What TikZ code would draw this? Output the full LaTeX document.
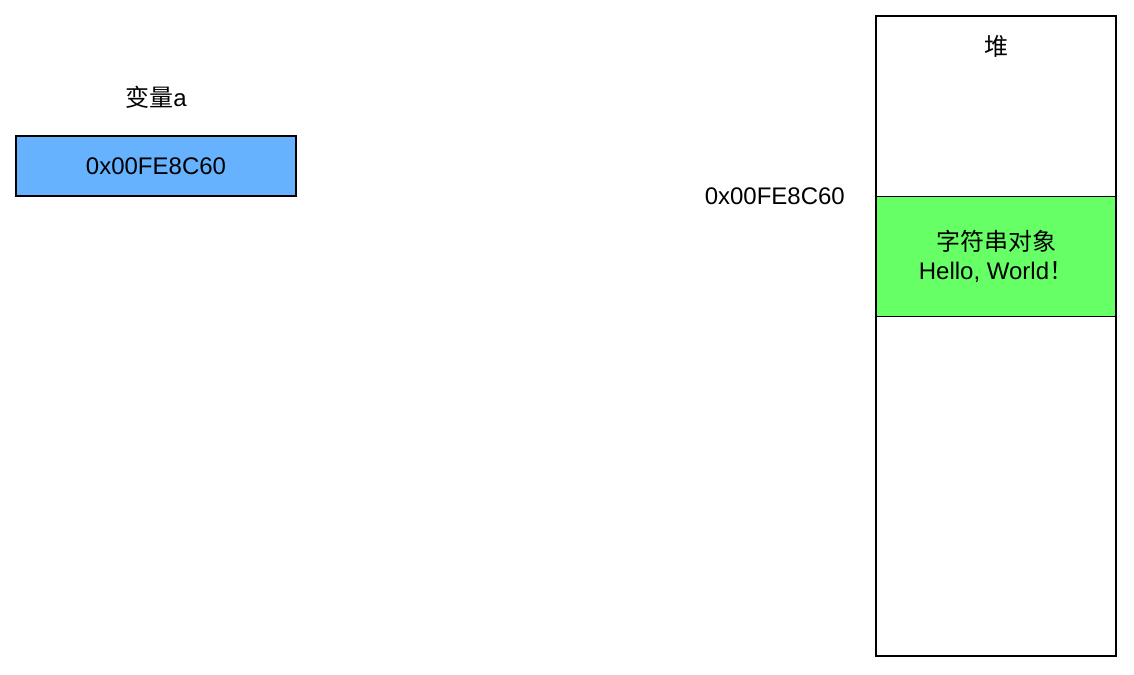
\documentclass[tikz,border=0pt]{standalone}
\usepackage{fontspec}
\setmainfont{Liberation Sans}
\newfontfamily\cjk{Noto Sans CJK SC}
\usepackage{xcolor}
\usepackage{tikz}
\usetikzlibrary{positioning}
\definecolor{var-blue}{HTML}{66B2FF}
\definecolor{obj-green}{HTML}{66FF66}

\begin{document}
\begin{tikzpicture}[
    x=0.5pt, y=-0.5pt,
    varbox/.style={draw, line width=0.75pt, fill=var-blue, minimum width=140pt, minimum height=30pt, font=\fontsize{12pt}{14.5pt}\selectfont},
    heapbox/.style={draw, line width=0.75pt, fill=white, minimum width=120pt, minimum height=320pt},
    objbox/.style={draw, line width=0.75pt, fill=obj-green, minimum width=120pt, minimum height=60pt, align=center, font=\fontsize{12pt}{14.5pt}\selectfont},
    note/.style={inner sep=0pt, font=\fontsize{12pt}{14.5pt}\selectfont}
]
    \useasboundingbox (0,0) rectangle (1134,674);

    % --- Nodes Definitions ---
    % Variable on the stack
    \node (var_a) [varbox] at (156,166) {0x00FE8C60};
    \node (var_label) [note, above=13pt of var_a] {{\cjk 变量}a};

    % Heap
    \node (heap) [heapbox] at (996,336) {};
    \node (heap_label) [note, below=10pt of heap.north] {\cjk 堆};
    \node (str_obj) [objbox] at (996,256.5) {{\cjk 字符串对象}\\Hello, World{\cjk ！}};
    \node (addr_label) [note, left=15pt of str_obj.north west] {0x00FE8C60};

\end{tikzpicture}
\end{document}
